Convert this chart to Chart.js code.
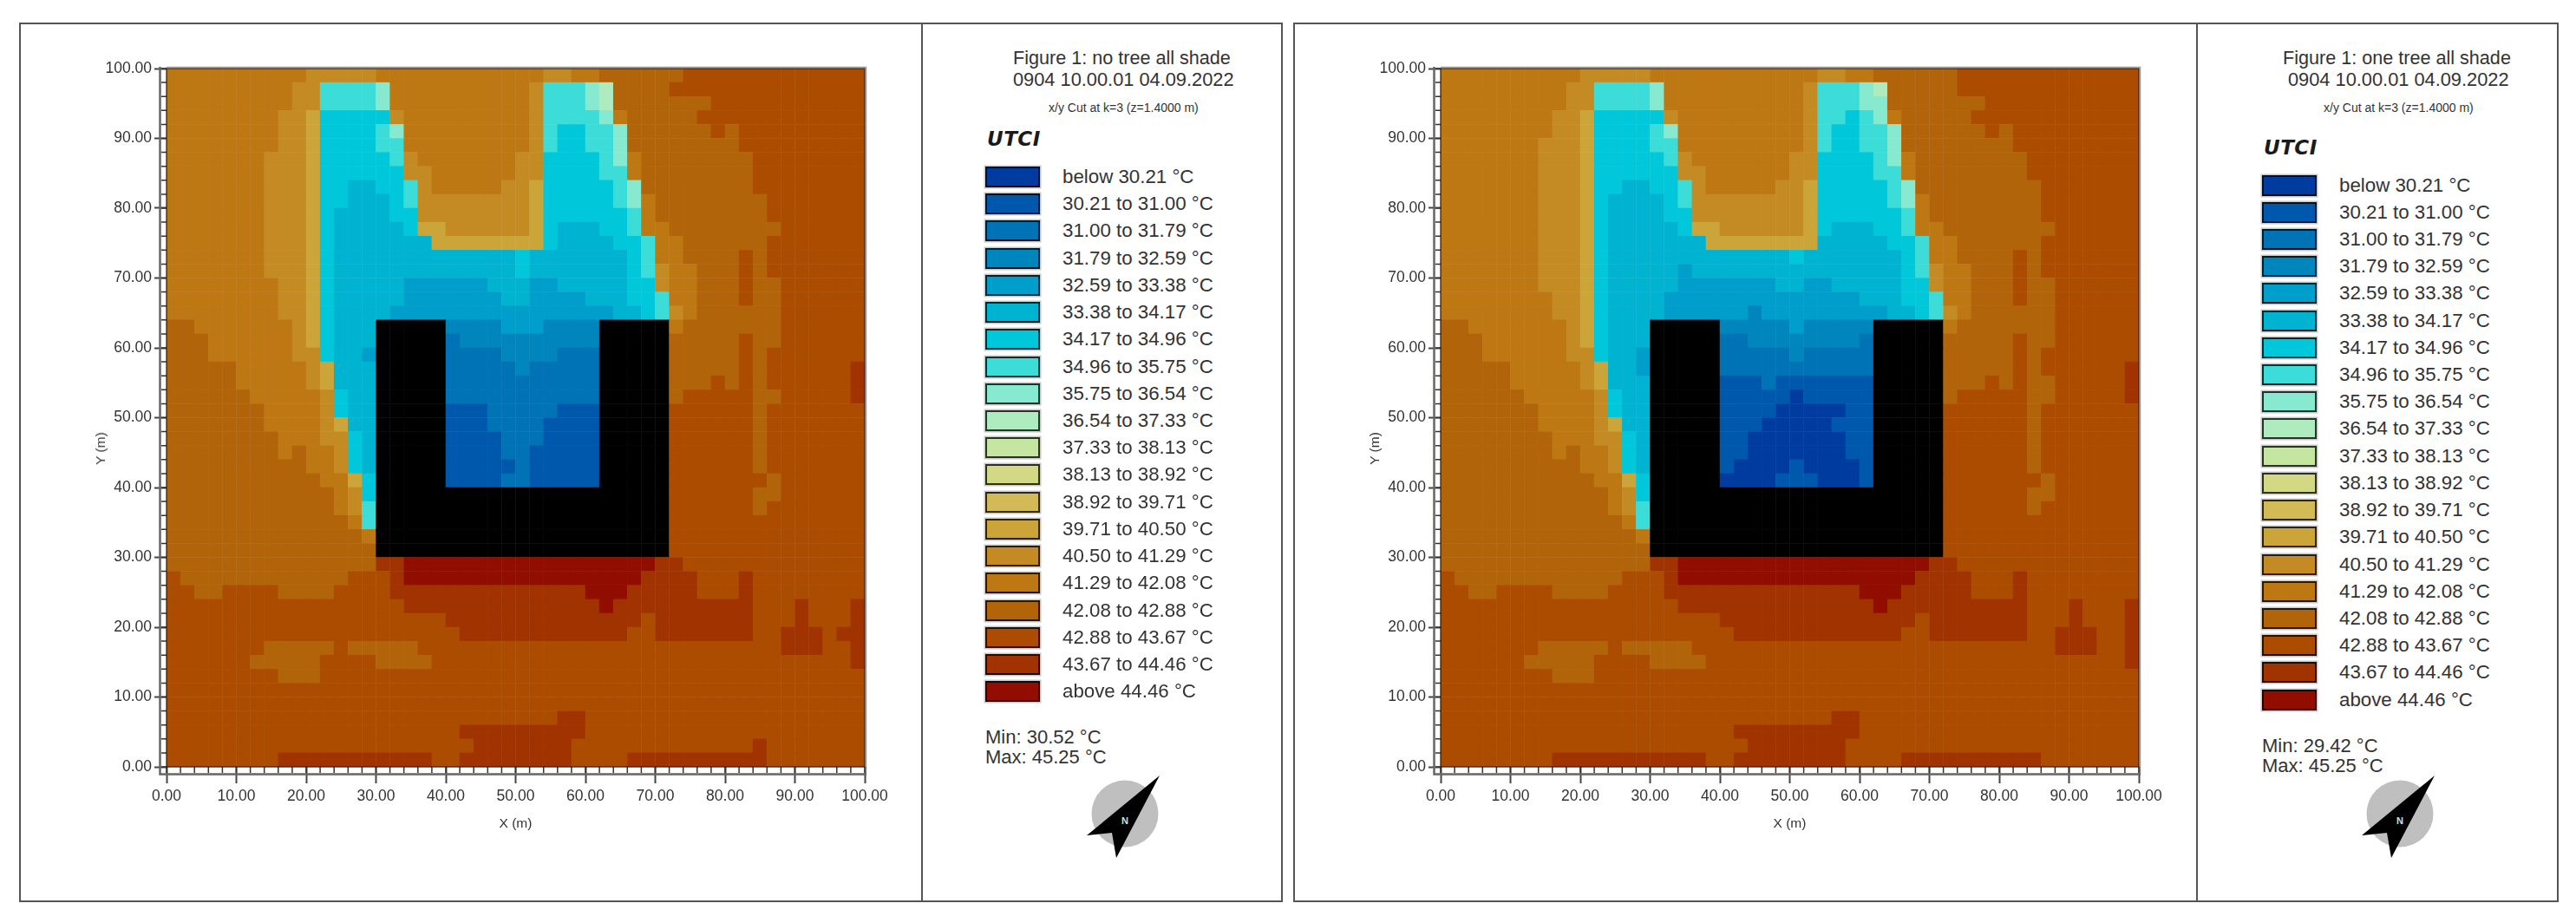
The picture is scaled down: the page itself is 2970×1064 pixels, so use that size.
<!DOCTYPE html>
<html>
<head>
<meta charset="utf-8">
<title>UTCI no tree / one tree</title>
<script src="https://cdn.jsdelivr.net/npm/chart.js@4/dist/chart.umd.min.js"></script>
<style>
  html, body { margin: 0; padding: 0; background: #fff; }
  body { position: relative; width: 2970px; height: 1064px; overflow: hidden; font-family: "Liberation Sans", sans-serif; color: #333; }
  .box { position: absolute; border: 2px solid #555; box-sizing: border-box; }
  .divider { position: absolute; background: #555; }
  .txt { position: absolute; white-space: nowrap; transform: translateY(-50%); }
  .swatch { position: absolute; box-sizing: border-box; border: 2px solid rgba(0,0,0,.78); box-shadow: 0 0 0 1.5px #c8c8c8; }
  canvas { position: absolute; }
  svg { position: absolute; }
</style>
</head>
<body>
<script>
// One class per legend row, a = below 30.21 ... t = above 44.46, X = building
const classLetters = 'abcdefghijklmnopqrstX';
const classColors = ['#003c9f', '#0058ac', '#0072b6', '#0086bd', '#009ecb', '#00b3d1', '#00c8da',
  '#3cdcd8', '#86e9d0', '#aeecc0', '#c4e6a0', '#d3d884', '#d2bb56', '#cba43a', '#c48b24',
  '#bd7713', '#b2640a', '#ab4c00', '#a03300', '#900d00', '#000000'];
const legendLabels = ['below 30.21 °C', '30.21 to 31.00 °C', '31.00 to 31.79 °C', '31.79 to 32.59 °C',
  '32.59 to 33.38 °C', '33.38 to 34.17 °C', '34.17 to 34.96 °C', '34.96 to 35.75 °C', '35.75 to 36.54 °C',
  '36.54 to 37.33 °C', '37.33 to 38.13 °C', '38.13 to 38.92 °C', '38.92 to 39.71 °C', '39.71 to 40.50 °C',
  '40.50 to 41.29 °C', '41.29 to 42.08 °C', '42.08 to 42.88 °C', '42.88 to 43.67 °C', '43.67 to 44.46 °C',
  'above 44.46 °C'];

// Rows run from y=100 m down to y=0 m, 50 columns of 2 m each, written as class + run length
const noTreeRows = [
  'p10 o5 p12 o2 p2 q6 r13',
  'p9 o2 h4 i1 p10 o1 h3 i1 j1 q4 r14',
  'p9 o2 h4 i1 p10 o1 h3 i1 j1 q7 r11',
  'p8 o2 n1 g5 o1 p9 o1 h4 i1 p1 q5 r12',
  'p8 o2 n1 g4 h1 i1 p9 o1 h1 g2 h2 i1 q6 r1 q1 r9',
  'p8 o2 n1 g4 h2 p9 o1 h1 g2 h2 i1 q8 r9',
  'p7 o3 n1 g5 h1 o1 p7 o2 g4 h1 i1 p1 q8 r8',
  'p7 o3 n1 g6 o2 p6 o2 g4 h2 p1 q8 r8',
  'p7 o3 n1 g2 f2 g2 h1 o1 p5 o2 n1 g5 h1 i1 q8 r8',
  'p7 o3 n1 g2 f3 g1 h1 o8 n1 g5 h1 i1 p1 q8 r7',
  'p7 o3 n1 g1 f4 g2 o8 n1 g6 h1 p1 q8 r7',
  'p7 o3 n1 g1 f5 g1 n2 o6 n1 g1 f3 g2 h1 p2 q8 r6',
  'p7 o3 n1 g1 f7 n8 g1 f4 g2 h1 p2 q6 r7',
  'p7 o3 n1 g1 f13 g1 f7 g1 h1 p2 q4 r1 q1 r7',
  'p7 o3 n1 g1 f13 g1 f7 g1 h1 o1 p2 q3 r1 q1 r7',
  'p8 o2 n1 g1 f5 e6 f3 e2 f5 g2 o1 p2 q3 r1 q2 r6',
  'p8 o2 n1 g1 f5 e7 f2 e4 f3 g2 h1 p2 q3 r1 q2 r6',
  'p8 o2 n1 g1 f4 e16 f2 g1 h1 o1 p1 q6 r6',
  'q2 p7 o1 n1 g1 f3 X5 d4 e3 d4 X5 p1 q7 r6',
  'q3 p6 o1 n1 g1 f3 X5 c1 d10 X5 q5 r1 q2 r6',
  'q3 p6 o2 g1 f2 e1 X5 c4 d4 c3 X5 q5 r1 q1 r7',
  'q5 p5 o1 n1 f3 X5 c5 d1 c5 X5 q5 r1 q1 r6 s1',
  'q5 p5 o1 n1 f3 X5 c11 X5 q3 r1 q1 r1 q1 r6 s1',
  'q6 p5 o1 g1 f2 X5 c11 X5 q1 r5 q2 r5 s1',
  'q7 p4 o1 g1 f2 X5 b3 c5 b3 X5 r6 q1 r7',
  'q7 p4 o1 n1 f2 X5 b3 c4 b4 X5 r6 q1 r7',
  'q8 p3 o2 g1 f1 X5 b4 c3 b4 X5 r6 q1 r7',
  'q8 p1 q1 p2 o1 g1 f1 X5 b4 c2 b5 X5 r6 q1 r7',
  'q10 p2 o1 g1 f1 X5 b5 c1 b5 X5 r6 q1 r7',
  'q11 p2 n1 g1 X5 b4 c2 b5 X5 r7 q1 r6',
  'q12 p1 o1 g1 X21 r6 q2 r6',
  'q12 p1 o1 h1 X21 r6 q1 r7',
  'q13 p1 h1 X21 r14',
  'q14 p1 X21 r14',
  'q15 X21 r14',
  'q15 s2 t18 s2 r13',
  'r1 q12 r3 s1 t17 s4 r3 s1 r8',
  'r2 q2 r4 q4 r4 s14 t3 s5 r3 s1 r8',
  'r17 s14 t1 s10 r3 s1 r3 s1',
  'r20 s14 r1 s7 r3 s1 r3 s1',
  'r21 s12 r2 s7 r2 s3 r1 s2',
  'r7 q5 r1 q5 r26 s3 r2 s1',
  'r6 q5 r4 q4 r30 s1',
  'r8 q3 r39',
  'r50',
  'r50',
  'r28 s2 r20',
  'r21 s9 r20',
  'r22 s7 r13 s1 r7',
  'r8 s11 r2 s8 r4 s10 r7'
];

const oneTreeRows = [
  'p10 o5 p12 o2 p2 q6 r13',
  'p9 o2 h4 i1 p10 o1 h3 i1 j1 q5 r13',
  'p9 o2 h4 i1 p10 o1 h3 i2 q7 r11',
  'p8 o2 n1 g5 o1 p9 o1 h2 g1 h1 i1 p1 q5 r12',
  'p8 o2 n1 g4 h1 i1 p9 o1 h1 g2 h2 i1 q6 r1 q1 r9',
  'p7 o3 n1 g4 h2 p9 o1 h1 g2 h2 i1 q8 r9',
  'p7 o3 n1 g5 h1 o1 p7 o2 g4 h1 i1 p1 q8 r8',
  'p7 o3 n1 g6 o2 p6 o2 g4 h2 p1 q8 r8',
  'p7 o3 n1 g2 f2 g2 h1 o1 p5 o2 n1 g5 h1 i1 q9 r7',
  'p7 o3 n1 g1 f4 g1 h1 o8 n1 g5 h1 i1 p1 q8 r7',
  'p7 o3 n1 g1 f4 g2 o8 n1 g6 h1 p1 q8 r7',
  'p7 o3 n1 g1 f5 g1 n2 o6 n1 g1 f3 g2 h1 p2 q8 r6',
  'p7 o3 n1 g1 f7 n8 f5 g2 h1 p2 q6 r7',
  'p7 o3 n1 g1 f13 g1 f7 g1 h1 p2 q4 r1 q1 r7',
  'p7 o3 n1 g1 f5 e1 f15 g1 h1 o1 p2 q3 r1 q1 r7',
  'p7 o3 n1 g1 f5 e7 f2 e2 f5 g2 o1 p2 q3 r1 q2 r6',
  'p8 o2 n1 g1 f4 e14 f3 g2 h1 p2 q3 r1 q2 r6',
  'p8 o2 n1 g1 f4 e6 d1 e9 f2 g1 h1 o1 p1 q6 r6',
  'q2 p7 o1 n1 g1 f3 X5 d5 e1 d5 X5 p1 q7 r6',
  'q3 p6 o1 n1 g1 f3 X5 c2 d8 c1 X5 q5 r1 q2 r6',
  'q3 p6 o2 g1 f2 e1 X5 c5 d1 c5 X5 q5 r1 q1 r7',
  'q5 p5 o1 n1 f2 e1 X5 c11 X5 q5 r1 q1 r6 s1',
  'q5 p5 o1 n1 f3 X5 b3 c1 b7 X5 q3 r1 q1 r1 q2 r5 s1',
  'q6 p5 o1 g1 f2 X5 b5 a1 b5 X5 q1 r5 q2 r5 s1',
  'q7 p4 o1 g1 f2 X5 b4 a5 b2 X5 r6 q1 r7',
  'q7 p4 o1 n1 f2 X5 b3 a5 b3 X5 r6 q1 r7',
  'q8 p3 o2 g1 f1 X5 b2 a7 b2 X5 r6 q1 r7',
  'q8 p1 q1 p2 o1 g1 f1 X5 b2 a7 b2 X5 r6 q1 r7',
  'q10 p2 o1 g1 f1 X5 b1 a4 b1 a4 b1 X5 r6 q1 r7',
  'q11 p2 n1 g1 X5 a4 b3 a3 b1 X5 r7 q1 r6',
  'q12 p1 o1 g1 X21 r6 q2 r6',
  'q12 p1 o1 h1 X21 r6 q1 r7',
  'q13 p1 h1 X21 r14',
  'q14 p1 X21 r14',
  'q15 X21 r14',
  'q15 s2 t18 s2 r13',
  'r1 q12 r3 s1 t17 s4 r3 s1 r8',
  'r2 q2 r4 q4 r4 s14 t3 s5 r3 s1 r8',
  'r17 s14 t1 s10 r3 s1 r3 s1',
  'r20 s14 r1 s7 r3 s1 r3 s1',
  'r21 s12 r2 s7 r2 s3 r2 s1',
  'r7 q5 r1 q5 r26 s3 r2 s1',
  'r6 q5 r4 q4 r30 s1',
  'r8 q3 r39',
  'r50',
  'r50',
  'r28 s2 r20',
  'r21 s9 r20',
  'r22 s7 r21',
  'r8 s11 r2 s8 r4 s10 r7'
];

const CELL_METRES = 2;
const AXIS_MAX = 100;
const PLOT_SIZE = 805;

// Turn the run-length rows into scatter points with a class index
function rowsToPoints(rows) {
  const points = [];
  rows.forEach((row, r) => {
    let c = 0;
    row.split(' ').forEach(run => {
      const cls = classLetters.indexOf(run[0]);
      const count = parseInt(run.slice(1), 10);
      for (let i = 0; i < count; i++) {
        points.push({ x: c * CELL_METRES + 1, y: AXIS_MAX - r * CELL_METRES - 1, v: cls });
        c++;
      }
    });
    if (c !== 50) console.error('row', r, 'has', c, 'cells');
  });
  return points;
}

// Offset axis line and 2 m minor ticks, plus the thin frame round the plot
const axisFurniture = {
  id: 'axisFurniture',
  afterDraw(chart) {
    const { ctx, chartArea: area, scales } = chart;
    ctx.save();
    ctx.strokeStyle = '#666';
    ctx.lineWidth = 2.5;
    ctx.beginPath();
    ctx.moveTo(area.left - 7.5, area.top - 2);
    ctx.lineTo(area.left - 7.5, area.bottom + 8.5);
    ctx.lineTo(area.right + 2, area.bottom + 8.5);
    ctx.stroke();
    ctx.strokeStyle = '#333';
    ctx.lineWidth = 1.5;
    ctx.beginPath();
    for (let v = 0; v <= AXIS_MAX; v += CELL_METRES) {
      const py = scales.y.getPixelForValue(v);
      ctx.moveTo(area.left - 6, py);
      ctx.lineTo(area.left, py);
      const px = scales.x.getPixelForValue(v);
      ctx.moveTo(px, area.bottom);
      ctx.lineTo(px, area.bottom + 7);
    }
    ctx.stroke();
    ctx.strokeStyle = 'rgba(40,25,10,.8)';
    ctx.lineWidth = 1.5;
    ctx.strokeRect(area.left, area.top, area.right - area.left, area.bottom - area.top);
    ctx.strokeStyle = 'rgba(130,130,130,.8)';
    ctx.lineWidth = 1.5;
    ctx.beginPath();
    ctx.moveTo(area.left, area.top - 1.5);
    ctx.lineTo(area.right + 1.5, area.top - 1.5);
    ctx.lineTo(area.right + 1.5, area.bottom + 8);
    ctx.stroke();
    ctx.restore();
  }
};

function axisOptions(fixSize, tickLength, tickPadding) {
  return {
    type: 'linear',
    min: 0,
    max: AXIS_MAX,
    afterFit: fixSize,
    border: { display: false },
    grid: { drawOnChartArea: false, drawTicks: true, tickLength: tickLength, tickColor: '#444', tickWidth: 2 },
    ticks: {
      stepSize: 10,
      padding: tickPadding,
      maxRotation: 0,
      minRotation: 0,
      color: '#333',
      font: { family: '"Liberation Sans"', size: 17.5 },
      callback: v => v.toFixed(2)
    }
  };
}

function drawHeatmap(rows, plotLeft) {
  const canvasLeft = plotLeft - 168;
  const canvasTop = 28;
  const canvas = document.createElement('canvas');
  canvas.style.left = canvasLeft + 'px';
  canvas.style.top = canvasTop + 'px';
  canvas.style.width = '1030px';
  canvas.style.height = '1000px';
  canvas.width = 1030;
  canvas.height = 1000;
  document.body.appendChild(canvas);

  const xAxis = axisOptions(s => { s.height = 144; }, 19, 5);
  xAxis.title = { display: true, text: 'X (m)', color: '#333', font: { family: '"Liberation Sans"', size: 15.5 }, padding: { top: 0, bottom: 69 } };
  const yAxis = axisOptions(s => { s.width = 168; }, 14, 3);

  return new Chart(canvas.getContext('2d'), {
    type: 'scatter',
    data: {
      datasets: [{
        data: rowsToPoints(rows),
        pointStyle: 'rect',
        borderWidth: 0,
        backgroundColor: ctx => classColors[ctx.raw ? ctx.raw.v : 0],
        // rect half side is radius / sqrt 2, overlap a bit so no seams show
        pointRadius: (PLOT_SIZE / 100 + 0.25) * Math.SQRT2
      }]
    },
    plugins: [axisFurniture],
    options: {
      responsive: false,
      animation: false,
      events: [],
      layout: { padding: { left: 0, top: 51, right: 57, bottom: 0 } },
      plugins: { legend: { display: false }, tooltip: { enabled: false } },
      scales: { x: xAxis, y: yAxis }
    }
  });
}

function addText(text, x, y, size, extra) {
  const el = document.createElement('div');
  el.className = 'txt';
  el.textContent = text;
  el.style.left = x + 'px';
  el.style.top = y + 'px';
  el.style.fontSize = size + 'px';
  if (extra) Object.assign(el.style, extra);
  document.body.appendChild(el);
}

function addBox(x, y, w, h) {
  const el = document.createElement('div');
  el.className = 'box';
  Object.assign(el.style, { left: x + 'px', top: y + 'px', width: w + 'px', height: h + 'px' });
  document.body.appendChild(el);
}

function addDivider(x, y, h) {
  const el = document.createElement('div');
  el.className = 'divider';
  Object.assign(el.style, { left: x + 'px', top: y + 'px', width: '2px', height: h + 'px' });
  document.body.appendChild(el);
}

function addCompass(cx, cy) {
  const ns = 'http://www.w3.org/2000/svg';
  const svg = document.createElementNS(ns, 'svg');
  svg.setAttribute('width', 100);
  svg.setAttribute('height', 110);
  svg.style.left = (cx - 50) + 'px';
  svg.style.top = (cy - 50) + 'px';
  svg.innerHTML = '<circle cx="50" cy="50" r="38.5" fill="#bfbfbf"/>' +
    '<polygon points="90,6 6,75 35,72 40,101" fill="#000"/>' +
    '<text x="50" y="62" font-family="Liberation Sans" font-size="11" font-weight="700" text-anchor="middle" fill="#bfe3f5">N</text>';
  document.body.appendChild(svg);
}

function drawLegend(p) {
  addText(p.title, p.titleX, 66.5, 21.6);
  addText('0904 10.00.01 04.09.2022', p.dateX, 91.5, 21.8);
  addText('x/y Cut at k=3 (z=1.4000 m)', p.cutX, 124, 14);
  addText('UTCI', p.swatchX + 2, p.shift + 160, 23, { fontWeight: '700', fontStyle: 'italic', color: '#1a1a1a', fontFamily: '"DejaVu Sans"', letterSpacing: '0.5px' });
  legendLabels.forEach((label, i) => {
    const cy = p.shift + 204 + i * 31.22;
    const sw = document.createElement('div');
    sw.className = 'swatch';
    Object.assign(sw.style, {
      left: p.swatchX + 'px', top: (cy - 12) + 'px', width: '63px', height: '24px',
      background: classColors[i]
    });
    document.body.appendChild(sw);
    addText(label, p.swatchX + 89, cy, 22.3);
  });
  addText(p.min, p.swatchX, p.shift + 850, 22);
  addText('Max: 45.25 °C', p.swatchX, p.shift + 873, 22);
  addCompass(p.compassX, 938);
}

addBox(22, 26, 1457, 1014);
addDivider(1062, 26, 1014);
addBox(1491, 26, 1459, 1014);
addDivider(2532, 26, 1014);

drawHeatmap(noTreeRows, 191.7);
drawHeatmap(oneTreeRows, 1661);

// Y title sits below the middle of the axis in the reference, so it is placed by hand
addText('Y (m)', 116, 517, 15.5, { transform: 'translate(-50%, -50%) rotate(-90deg)' });
addText('Y (m)', 1585, 517, 15.5, { transform: 'translate(-50%, -50%) rotate(-90deg)' });

drawLegend({ title: 'Figure 1: no tree all shade', titleX: 1168, dateX: 1168, cutX: 1209, swatchX: 1136, shift: 0, min: 'Min: 30.52 °C', compassX: 1297 });
drawLegend({ title: 'Figure 1: one tree all shade', titleX: 2632, dateX: 2638, cutX: 2679, swatchX: 2608, shift: 9.5, min: 'Min: 29.42 °C', compassX: 2767 });
</script>
</body>
</html>
